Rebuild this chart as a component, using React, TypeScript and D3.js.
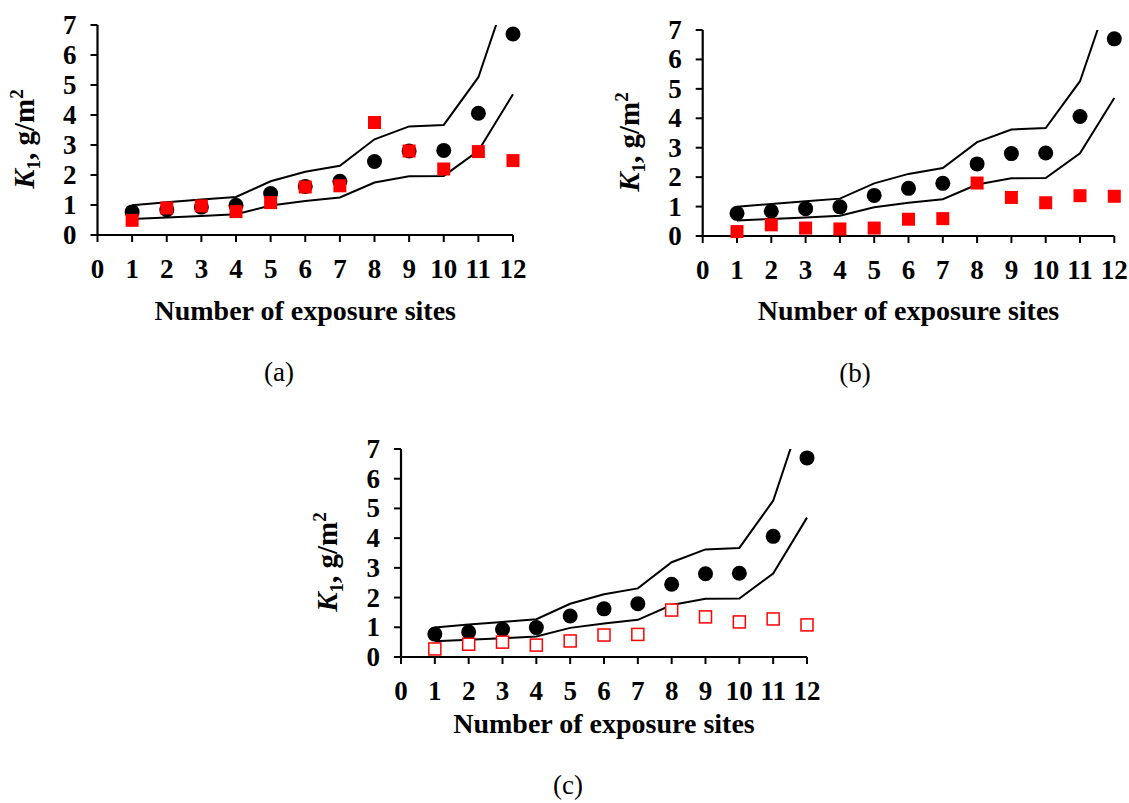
import React from "react";
import * as d3 from "d3";

// Exposure sites on the x axis
const sites = [1, 2, 3, 4, 5, 6, 7, 8, 9, 10, 11, 12];
const xTicks = [0, 1, 2, 3, 4, 5, 6, 7, 8, 9, 10, 11, 12];
const yTicks = [0, 1, 2, 3, 4, 5, 6, 7];

// Reference K1 values (black dots) and the band around them
const k1Reference = [0.77, 0.84, 0.93, 0.99, 1.38, 1.62, 1.79, 2.45, 2.8, 2.82, 4.06, 6.7];
const upperBound = [0.99, 1.09, 1.18, 1.27, 1.79, 2.11, 2.31, 3.19, 3.62, 3.67, 5.26, 8.67];
const lowerBound = [0.53, 0.58, 0.63, 0.69, 0.98, 1.13, 1.25, 1.75, 1.96, 1.97, 2.81, 4.69];

// Predicted K1 values for each panel (red squares)
const predictedA = [0.49, 0.9, 0.97, 0.78, 1.08, 1.6, 1.64, 3.75, 2.8, 2.2, 2.78, 2.48];
const predictedB = [0.15, 0.38, 0.27, 0.24, 0.27, 0.57, 0.59, 1.8, 1.31, 1.13, 1.37, 1.35];
const predictedC = [0.27, 0.43, 0.5, 0.4, 0.54, 0.74, 0.76, 1.58, 1.35, 1.18, 1.28, 1.08];

const FONT = "'Liberation Serif', 'Times New Roman', serif";
const RED = "#ff0000";

type PanelProps = {
  id: string;
  left: number;
  right: number;
  bottom: number;
  top: number;
  predicted: number[];
  open: boolean;
  titleY: number;
  caption: string;
  captionX: number;
  captionY: number;
};

function Panel(p: PanelProps) {
  const x = d3.scaleLinear().domain([0, 12]).range([p.left, p.right]);
  const y = d3.scaleLinear().domain([0, 7]).range([p.bottom, p.top]);
  const line = d3
    .line<number>()
    .x((_, i) => x(sites[i]))
    .y((v) => y(v));
  const clipId = `clip-${p.id}`;
  const sq = 13;
  const labelCx = p.left - 64;
  const labelCy = (p.top + p.bottom) / 2 + 9;

  return (
    <g>
      <defs>
        <clipPath id={clipId}>
          <rect x={p.left} y={p.top} width={p.right - p.left + 20} height={p.bottom - p.top + 20} />
        </clipPath>
      </defs>

      {/* band lines */}
      <g clipPath={`url(#${clipId})`}>
        <path d={line(upperBound) || ""} fill="none" stroke="#000" strokeWidth={2} />
        <path d={line(lowerBound) || ""} fill="none" stroke="#000" strokeWidth={2} />
      </g>

      {/* axes */}
      <line x1={p.left} x2={p.left} y1={p.top} y2={p.bottom} stroke="#000" strokeWidth={2.2} />
      <line x1={p.left - 1} x2={p.right} y1={p.bottom} y2={p.bottom} stroke="#000" strokeWidth={2.2} />
      {yTicks.map((t) => (
        <g key={`y${t}`}>
          <line x1={p.left - 7} x2={p.left} y1={y(t)} y2={y(t)} stroke="#000" strokeWidth={2} />
          <text
            x={p.left - 21}
            y={y(t) + 9}
            textAnchor="end"
            fontFamily={FONT}
            fontWeight="bold"
            fontSize={27}
          >
            {t}
          </text>
        </g>
      ))}
      {xTicks.map((t) => (
        <g key={`x${t}`}>
          <line x1={x(t)} x2={x(t)} y1={p.bottom} y2={p.bottom + 7} stroke="#000" strokeWidth={2} />
          <text
            x={x(t)}
            y={p.bottom + 43}
            textAnchor="middle"
            fontFamily={FONT}
            fontWeight="bold"
            fontSize={27}
          >
            {t}
          </text>
        </g>
      ))}

      {/* reference dots */}
      {k1Reference.map((v, i) => (
        <circle key={`c${i}`} cx={x(sites[i])} cy={y(v)} r={7.5} fill="#000" />
      ))}

      {/* predicted squares */}
      {p.predicted.map((v, i) =>
        p.open ? (
          <rect
            key={`s${i}`}
            x={x(sites[i]) - 6}
            y={y(v) - 6}
            width={12}
            height={12}
            fill="#fff"
            stroke={RED}
            strokeWidth={1.5}
          />
        ) : (
          <rect
            key={`s${i}`}
            x={x(sites[i]) - sq / 2}
            y={y(v) - sq / 2}
            width={sq}
            height={sq}
            fill={RED}
          />
        )
      )}

      {/* axis titles */}
      <text
        transform={`translate(${labelCx},${labelCy}) rotate(-90)`}
        textAnchor="middle"
        fontFamily={FONT}
        fontWeight="bold"
        fontSize={29}
      >
        <tspan fontStyle="italic">K</tspan>
        <tspan fontSize={19} dy={6}>1</tspan>
        <tspan dy={-6}>, g/m</tspan>
        <tspan fontSize={19} dy={-11}>2</tspan>
      </text>
      <text
        x={(p.left + p.right) / 2}
        y={p.titleY}
        textAnchor="middle"
        fontFamily={FONT}
        fontWeight="bold"
        fontSize={28}
      >
        Number of exposure sites
      </text>
      <text x={p.captionX} y={p.captionY} textAnchor="middle" fontFamily={FONT} fontSize={27}>
        {p.caption}
      </text>
    </g>
  );
}

export default function App() {
  return (
    <svg
      width={1129}
      height={803}
      style={{ position: "absolute", left: 0, top: 0, display: "block", background: "#fff" }}
    >
      <rect width={1129} height={803} fill="#fff" />
      <Panel
        id="a"
        left={97.5}
        right={513}
        bottom={235}
        top={25}
        predicted={predictedA}
        open={false}
        titleY={320}
        caption="(a)"
        captionX={279}
        captionY={381}
      />
      <Panel
        id="b"
        left={702.7}
        right={1114.3}
        bottom={236}
        top={30}
        predicted={predictedB}
        open={false}
        titleY={320}
        caption="(b)"
        captionX={855}
        captionY={382}
      />
      <Panel
        id="c"
        left={401}
        right={807}
        bottom={657}
        top={449}
        predicted={predictedC}
        open={true}
        titleY={733}
        caption="(c)"
        captionX={568}
        captionY={794}
      />
    </svg>
  );
}
